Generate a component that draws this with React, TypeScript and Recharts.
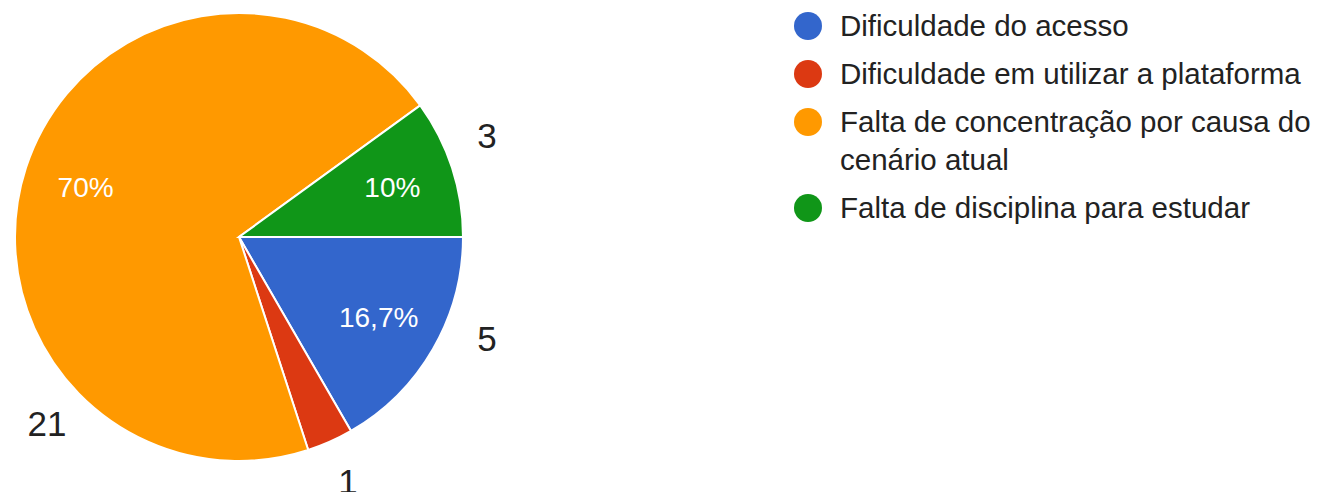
import React from 'react';
import { PieChart, Pie, Cell, Legend } from 'recharts';

const categories = [
  'Dificuldade do acesso',
  'Dificuldade em utilizar a plataforma',
  'Falta de concentração por causa do cenário atual',
  'Falta de disciplina para estudar',
];
const counts = [5, 1, 21, 3];
const colors = ['#3366cc', '#dc3912', '#ff9900', '#109618'];

const data = categories.map((name, i) => ({ name, value: counts[i] }));

const FONT = '"Liberation Sans", Arial, sans-serif';
const CX = 226;
const CY = 224;
const OUTER = 224;
const LABEL_R = OUTER + 44;
const MIN_LABEL_X = 39;
const RAD = Math.PI / 180;

const formatPct = (p: number) => {
  const v = Math.round(p * 1000) / 10;
  return String(v).replace('.', ',') + '%';
};

// angle of the outside value label (clockwise degrees from 3 o'clock)
const valueLabelAngle = (cx: number, start: number, end: number) => {
  const mid = (start + end) / 2;
  const c = Math.cos(mid * RAD);
  if (Math.abs(c) < 0.7) return mid;
  let colX = c > 0 ? cx + OUTER + 24 : cx - OUTER - 24;
  colX = Math.max(colX, MIN_LABEL_X);
  const a = Math.acos(Math.max(-1, Math.min(1, (colX - cx) / LABEL_R))) / RAD;
  const cands = [a, 360 - a].filter((t) => t >= start && t <= end);
  if (!cands.length) return mid;
  cands.sort((p, q) => Math.abs(p - start) - Math.abs(q - start));
  return cands[0];
};

const renderLabel = (props: any) => {
  const { cx, cy, startAngle, endAngle, midAngle, outerRadius, percent, value } = props;
  const m = -midAngle * RAD;
  const ir = outerRadius * 0.72;
  const px = cx + ir * Math.cos(m);
  const py = cy + ir * Math.sin(m);
  const t = valueLabelAngle(cx, -startAngle, -endAngle) * RAD;
  const vx = cx + LABEL_R * Math.cos(t);
  const vy = cy + LABEL_R * Math.sin(t);
  return (
    <g>
      {percent >= 0.05 && (
        <text x={px} y={py} fill="#ffffff" fontSize={28} fontFamily={FONT}
          textAnchor="middle" dominantBaseline="central">
          {formatPct(percent)}
        </text>
      )}
      <text x={vx} y={vy} fill="#222222" fontSize={35} fontFamily={FONT}
        textAnchor="middle" dominantBaseline="central">
        {value}
      </text>
    </g>
  );
};

const LegendList = () => (
  <div style={{ fontFamily: FONT, fontSize: 29.5, color: '#222222' }}>
    {categories.map((name, i) => (
      <div key={name} style={{ display: 'flex', alignItems: 'flex-start', marginBottom: 10 }}>
        <span style={{
          width: 28, height: 28, borderRadius: '50%', background: colors[i],
          marginTop: 5, marginRight: 18, flex: 'none',
        }} />
        <span style={{ width: 478, lineHeight: '38px' }}>{name}</span>
      </div>
    ))}
  </div>
);

export default function App() {
  return (
    <div style={{ height: 484 }}>
      <PieChart width={1305} height={492}>
        <Pie
          data={data}
          dataKey="value"
          nameKey="name"
          cx={CX}
          cy={CY}
          outerRadius={OUTER}
          startAngle={0}
          endAngle={-360}
          stroke="#ffffff"
          strokeWidth={2}
          label={renderLabel}
          labelLine={false}
          isAnimationActive={false}
        >
          {data.map((d, i) => (
            <Cell key={d.name} fill={colors[i]} />
          ))}
        </Pie>
        <Legend
          content={<LegendList />}
          wrapperStyle={{ left: 786, top: -1, width: 530 }}
        />
      </PieChart>
    </div>
  );
}
